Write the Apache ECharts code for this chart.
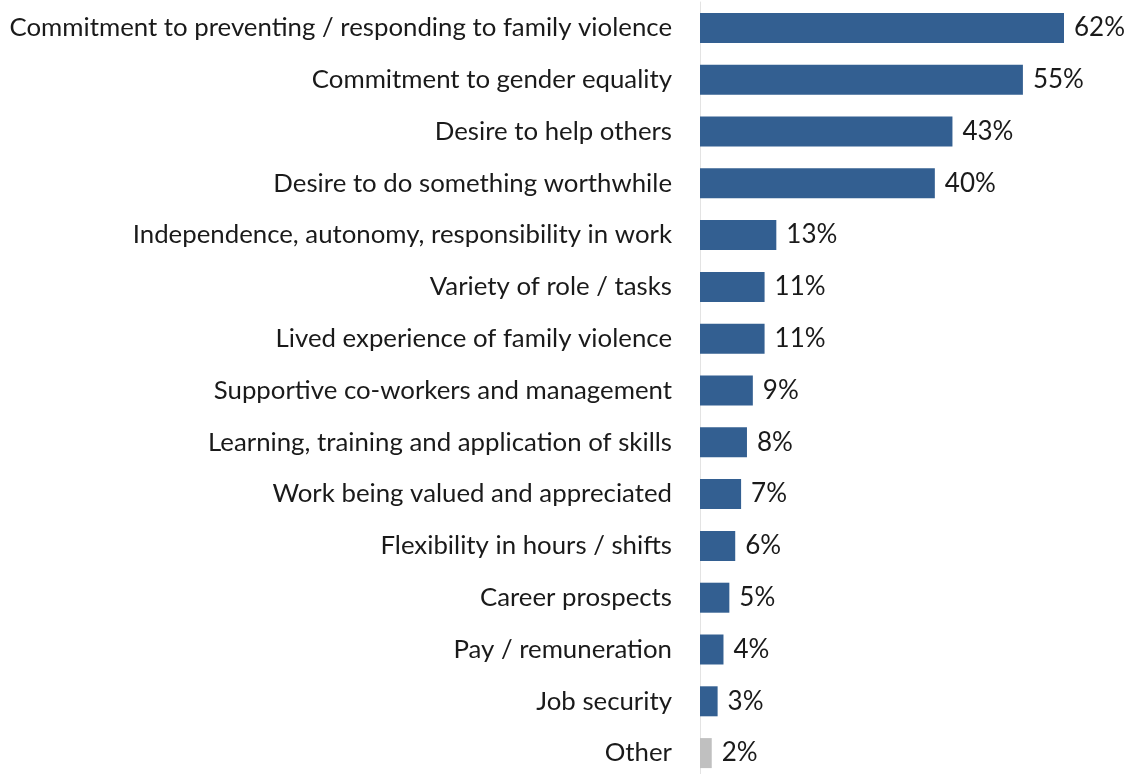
<!DOCTYPE html>
<html>
<head>
<meta charset="utf-8">
<script src="https://cdn.jsdelivr.net/npm/echarts@6/dist/echarts.min.js"></script>
<style>
  html, body { margin: 0; padding: 0; background: #fff; }
  #chart { width: 1131px; height: 774px; }
</style>
</head>
<body>
<div id="chart"></div>
<script>
// Reasons for working in the sector (% of respondents)
const categories = [
  'Commitment to preventing / responding to family violence',
  'Commitment to gender equality',
  'Desire to help others',
  'Desire to do something worthwhile',
  'Independence, autonomy, responsibility in work',
  'Variety of role / tasks',
  'Lived experience of family violence',
  'Supportive co-workers and management',
  'Learning, training and application of skills',
  'Work being valued and appreciated',
  'Flexibility in hours / shifts',
  'Career prospects',
  'Pay / remuneration',
  'Job security',
  'Other'
];
const values = [62, 55, 43, 40, 13, 11, 11, 9, 8, 7, 6, 5, 4, 3, 2];

const mainColor = '#335f91';
const otherColor = '#c0c0c0';

const chart = echarts.init(document.getElementById('chart'));
chart.setOption({
  animation: false,
  grid: {
    left: 700, right: 67, top: 2, height: 777,
    containLabel: false,
    outerBoundsMode: 'none'
  },
  xAxis: {
    type: 'value', min: 0, max: 62,
    show: false
  },
  yAxis: {
    type: 'category',
    data: categories,
    inverse: true,
    axisLine: { show: true, lineStyle: { color: '#e3e3e3', width: 1 } },
    axisTick: { show: false },
    axisLabel: {
      margin: 28,
      fontFamily: 'Lato',
      fontSize: 25.8,
      color: '#1a1a1a'
    }
  },
  series: [{
    type: 'bar',
    data: values.map((v, i) => ({
      value: v,
      itemStyle: { color: categories[i] === 'Other' ? otherColor : mainColor }
    })),
    barWidth: 30,
    label: {
      show: true,
      position: 'right',
      distance: 10,
      formatter: p => p.value + '%',
      fontFamily: 'Lato',
      fontSize: 26,
      color: '#1a1a1a'
    }
  }]
});
</script>
</body>
</html>
